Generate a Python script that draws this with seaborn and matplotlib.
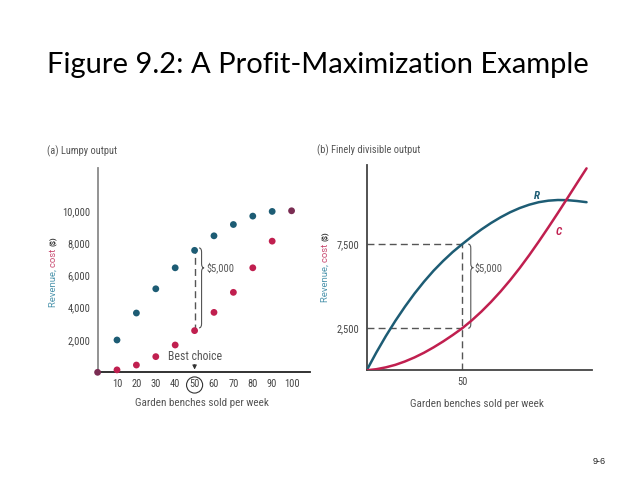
import numpy as np
import pandas as pd
import matplotlib
matplotlib.use("Agg")
import matplotlib.pyplot as plt
import seaborn as sns
from matplotlib import font_manager as fm
from matplotlib.path import Path
from matplotlib.patches import PathPatch, Ellipse

# ========== 数据 ==========
# (a) 离散产量
lumpy_q = [0, 10, 20, 30, 40, 50, 60, 70, 80, 90, 100]
lumpy_revenue = [0, 2000, 3670, 5170, 6470, 7550, 8450, 9150, 9670, 9960, 10000]
lumpy_cost = [0, 150, 450, 970, 1690, 2580, 3710, 4950, 6470, 8120, 10000]

# (b) 连续产量
fine_q = [0, 5, 10, 15, 20, 25, 30, 35, 40, 45, 50, 55,
          60, 65, 70, 75, 80, 85, 90, 95, 100, 105, 110, 115]
fine_revenue = [0, 1050, 2030, 2940, 3780, 4560, 5270, 5920, 6500, 7030, 7500, 7950,
                8370, 8750, 9090, 9390, 9640, 9840, 9990, 10080, 10120, 10110, 10060, 9990]
fine_cost = [0, 65, 175, 325, 525, 765, 1045, 1365, 1715, 2095, 2500, 2970,
             3490, 4060, 4680, 5350, 6070, 6840, 7650, 8490, 9350, 10230, 11120, 12000]

lumpy_yticks = [2000, 4000, 6000, 8000, 10000]
lumpy_xticks = [10, 20, 30, 40, 50, 60, 70, 80, 90, 100]
fine_yticks = [2500, 7500]
fine_xticks = [50]
best_q = 50

# ========== 样式 ==========
sns.set_style("white")

# 找一个窄体字（图中文字是压缩字体）
chart_family = 'DejaVu Sans'
chart_stretch = 'normal'
font_names = {f.name for f in fm.fontManager.ttflist}
for cand in ['Liberation Sans Narrow', 'Roboto Condensed', 'Open Sans Condensed', 'Noto Sans Condensed']:
    if cand in font_names:
        chart_family = cand
        break
else:
    cond = [f for f in fm.fontManager.ttflist
            if 'condensed' in str(f.stretch).lower() or 'condensed' in f.fname.lower()]
    if cond:
        chart_family = cond[0].name
        chart_stretch = 'condensed'
plt.rcParams['font.family'] = [chart_family, 'DejaVu Sans']
plt.rcParams['font.stretch'] = chart_stretch
label_family = ['Roboto', 'DejaVu Sans']  # 纵轴标签是常规宽度字体

BLUE = '#1d5c74'
RED = '#c01f4f'
BOTH = '#7a2c52'
GRAY = '#555555'
TICK = '#444444'
LBL_BLUE = '#4e95ad'
LBL_RED = '#c8496f'

fig = plt.figure(figsize=(6.38, 4.79), dpi=100)
W, H = 638, 479


def px_axes(x0, x1, y_top, y_bot):
    return fig.add_axes([x0 / W, 1 - y_bot / H, (x1 - x0) / W, (y_bot - y_top) / H])


def brace(ax, x0, w, yt, ym, yb, r):
    xm = x0 + w / 2
    verts = [(x0, yt), (xm, yt), (xm, yt - r), (xm, ym + r), (xm, ym), (x0 + w, ym),
             (xm, ym), (xm, ym - r), (xm, yb + r), (xm, yb), (x0, yb)]
    codes = [Path.MOVETO, Path.CURVE3, Path.CURVE3, Path.LINETO, Path.CURVE3, Path.CURVE3,
             Path.CURVE3, Path.CURVE3, Path.LINETO, Path.CURVE3, Path.CURVE3]
    ax.add_patch(PathPatch(Path(verts, codes), fill=False, ec=GRAY, lw=0.8, clip_on=False))


def multi_ylabel(xpix, ycenter_pix):
    # ycenter_pix 从图片顶部量起
    parts = [("Revenue, ", LBL_BLUE, 6.8, 'normal'), ("cost ", LBL_RED, 6.8, 'normal'),
             ("($)", '#333333', 5.5, 'bold')]
    r = fig.canvas.get_renderer()
    texts = []
    for s, c, fs, fw in parts:
        t = fig.text(0, 0, s, rotation=90, color=c, fontsize=fs, fontweight=fw,
                     family=label_family, stretch='normal', ha='center', va='bottom')
        texts.append(t)
    heights = [t.get_window_extent(r).height for t in texts]
    total = sum(heights)
    y = (H - ycenter_pix) - total / 2
    for t, h in zip(texts, heights):
        t.set_position((xpix / W, y / H))
        y += h


def style_axes(ax, left_color, bottom_color):
    for s in ['top', 'right']:
        ax.spines[s].set_visible(False)
    ax.spines['left'].set_color(left_color)
    ax.spines['bottom'].set_color(bottom_color)
    ax.spines['left'].set_linewidth(1.3)
    ax.spines['bottom'].set_linewidth(1.3)
    ax.tick_params(length=0, labelsize=7.5, labelcolor=TICK, pad=5)
    ax.set_facecolor('none')
    ax.set_xlabel('')
    ax.set_ylabel('')


# ========== (a) Lumpy output ==========
ax1 = px_axes(97.6, 310, 168.3, 372.3)
df_a = pd.DataFrame({'q': lumpy_q, 'R': lumpy_revenue, 'C': lumpy_cost})
same = df_a['R'] == df_a['C']
ax1.plot([best_q, best_q], [df_a.loc[df_a.q == best_q, 'C'].iloc[0], df_a.loc[df_a.q == best_q, 'R'].iloc[0]],
         ls=(0, (5, 3)), color=GRAY, lw=1)
sns.scatterplot(data=df_a[~same], x='q', y='R', color=BLUE, s=24, edgecolor='none', ax=ax1, clip_on=False, zorder=3)
sns.scatterplot(data=df_a[~same], x='q', y='C', color=RED, s=24, edgecolor='none', ax=ax1, clip_on=False, zorder=3)
sns.scatterplot(data=df_a[same], x='q', y='R', color=BOTH, s=24, edgecolor='none', ax=ax1, clip_on=False, zorder=3)
ax1.set_xlim(0, 109.5)
ax1.set_ylim(0, 12630)
ax1.set_xticks(lumpy_xticks)
ax1.set_xticklabels([str(v) for v in lumpy_xticks])
ax1.set_yticks(lumpy_yticks)
ax1.set_yticklabels([f'{v:,}' for v in lumpy_yticks])
style_axes(ax1, '#8a8a8a', '#222222')
brace(ax1, 52.3, 2.6, 7700, 6470, 2750, 250)
ax1.text(56, 6470, '$5,000', fontsize=7.5, color=GRAY, va='center', ha='left')
ax1.annotate('', xy=(best_q, 0), xytext=(best_q, 640),
             arrowprops=dict(arrowstyle='-|>', color='#333333', lw=0.8, mutation_scale=6))
ax1.text(best_q, 966, 'Best choice', fontsize=8.5, color=GRAY, ha='center', va='center')
ax1.add_patch(Ellipse((best_q, -786), 8.3, 1000, fill=False, ec='#333333', lw=0.8, clip_on=False))
fig.text(46.7 / W, 1 - 151 / H, '(a) Lumpy output', fontsize=7.5, color=GRAY, va='center', ha='left')
fig.text(202 / W, 1 - 403 / H, 'Garden benches sold per week', fontsize=8, color=GRAY, ha='center', va='center')

# ========== (b) Finely divisible output ==========
ax2 = px_axes(366.7, 591.7, 165, 370.3)
df_b = pd.DataFrame({'q': fine_q, 'R': fine_revenue, 'C': fine_cost})
r50 = df_b.loc[df_b.q == best_q, 'R'].iloc[0]
c50 = df_b.loc[df_b.q == best_q, 'C'].iloc[0]
ax2.plot([0, best_q], [r50, r50], ls=(0, (5, 3)), color=GRAY, lw=1)
ax2.plot([0, best_q], [c50, c50], ls=(0, (5, 3)), color=GRAY, lw=1)
ax2.plot([best_q, best_q], [0, r50], ls=(0, (5, 3)), color=GRAY, lw=1)
sns.lineplot(data=df_b, x='q', y='R', color=BLUE, lw=1.8, ax=ax2, zorder=3)
sns.lineplot(data=df_b, x='q', y='C', color=RED, lw=1.8, ax=ax2, zorder=3)
ax2.set_xlim(0, 117.7)
ax2.set_ylim(0, 12200)
ax2.set_xticks(fine_xticks)
ax2.set_xticklabels([str(v) for v in fine_xticks])
ax2.set_yticks(fine_yticks)
ax2.set_yticklabels([f'{v:,}' for v in fine_yticks])
style_axes(ax2, '#444444', '#444444')
brace(ax2, 53.1, 2.7, 7500, 6100, 2500, 240)
ax2.text(56.5, 6100, '$5,000', fontsize=7.5, color=GRAY, va='center', ha='left')
ax2.text(89, 10350, 'R', color=BLUE, fontsize=8, fontweight='bold', fontstyle='italic', ha='center', va='center')
ax2.text(100.5, 8200, 'C', color=RED, fontsize=8, fontweight='bold', fontstyle='italic', ha='center', va='center')
fig.text(316.7 / W, 1 - 150 / H, '(b) Finely divisible output', fontsize=7.5, color=GRAY, va='center', ha='left')
fig.text(477 / W, 1 - 404 / H, 'Garden benches sold per week', fontsize=8, color=GRAY, ha='center', va='center')

# 纵轴标签（多色）
multi_ylabel(53, 272)
multi_ylabel(325, 267)

# 标题与页码
fig.text(318 / W, 1 - 65 / H, 'Figure 9.2: A Profit-Maximization Example',
         fontsize=21, family=['Lato', 'DejaVu Sans'], stretch='normal', color='black', ha='center', va='center')
fig.text(599 / W, 1 - 461 / H, '9-6', fontsize=6.5, family=['Liberation Sans', 'DejaVu Sans'],
         stretch='normal', color='#222222', ha='center', va='center')

plt.savefig('out.png', dpi=100)
